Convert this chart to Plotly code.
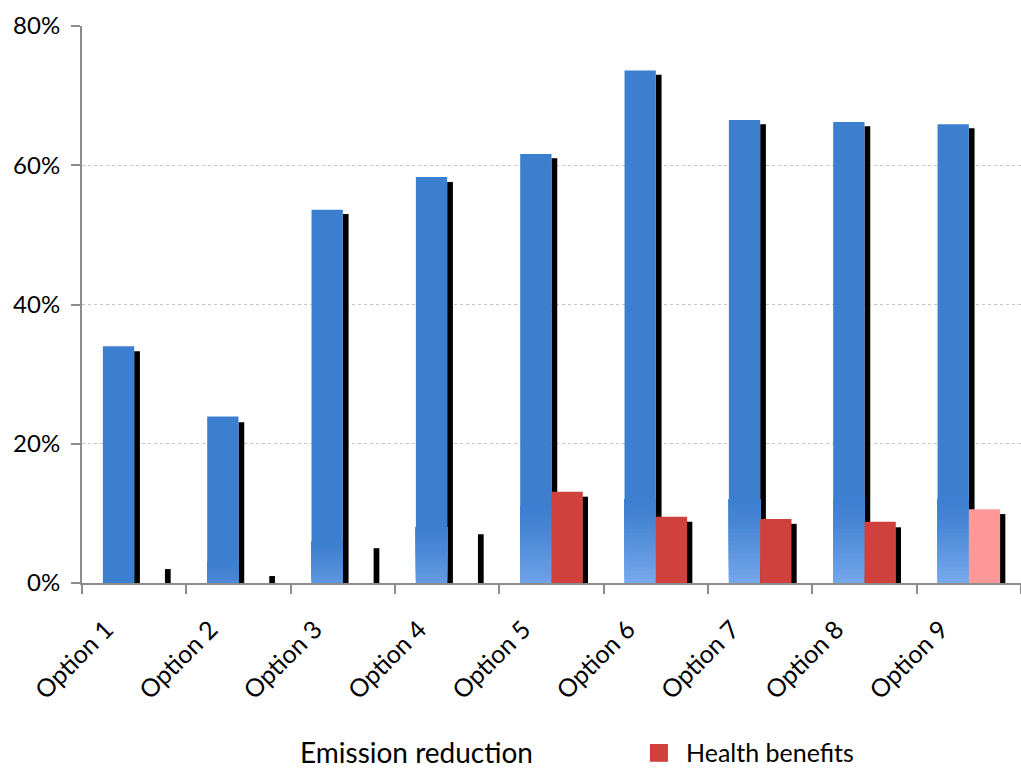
import plotly.graph_objects as go

# Options compared
options = ["Option 1", "Option 2", "Option 3", "Option 4", "Option 5",
           "Option 6", "Option 7", "Option 8", "Option 9"]

# Emission reduction (%) and its drop-shadow bar
emission = [34.0, 23.9, 53.6, 58.3, 61.6, 73.6, 66.5, 66.2, 65.9]
emission_shadow = [33.3, 23.1, 53.0, 57.6, 61.0, 73.0, 65.9, 65.6, 65.3]

# Health benefits (%) and its drop-shadow bar
health = [0, 0, 0, 0, 13.1, 9.5, 9.2, 8.8, 10.6]
health_shadow = [2.0, 1.0, 5.0, 7.0, 12.4, 8.8, 8.5, 8.0, 9.9]

# y-axis ticks
y_ticks = [0, 20, 40, 60, 80]
y_tick_text = ["0%", "20%", "40%", "60%", "80%"]

# styling
BLUE = (61, 127, 207)
BLUE_LIGHT = (128, 174, 240)
RED = "#D0403C"
PINK = "#FF9999"
red_colors = [RED] * 8 + [PINK]
fade_depth = [0, 3, 6, 8, 11, 12, 12, 12, 12]   # height of the lighter base glow
fade_strength = [0, 0.25, 0.5, 0.6, 0.75, 0.9, 0.85, 0.85, 0.9]

FONT = "Lato"
BAR_W = 0.3
SH_W = 0.055

fig = go.Figure()

# shadows first so the coloured bars sit on top
fig.add_trace(go.Bar(x=options, y=emission_shadow, offset=0, width=SH_W,
                     marker=dict(color="black", line_width=0),
                     showlegend=False, hoverinfo="skip"))
fig.add_trace(go.Bar(x=options, y=health_shadow, offset=BAR_W - 0.005, width=SH_W,
                     marker=dict(color="black", line_width=0),
                     showlegend=False, hoverinfo="skip"))


def mix(c1, c2, t):
    return "rgb({},{},{})".format(*[round(a + (b - a) * t) for a, b in zip(c1, c2)])


# emission bars: solid full bar, then a graded lighter base laid over it
fig.add_trace(go.Bar(x=options, y=emission, offset=-BAR_W, width=BAR_W,
                     marker=dict(color=mix(BLUE, BLUE, 0), line_width=0),
                     name="Emission reduction", showlegend=False))
N = 20
for k in range(N):
    t = k / N  # 0 at bottom, 1 at top of glow
    w = (1 - t - 0.5 / N) ** 1.3
    fig.add_trace(go.Bar(
        x=options,
        y=[d * (1 - t) for d in fade_depth],
        base=[d * t for d in fade_depth],
        offset=-BAR_W, width=BAR_W,
        marker=dict(color=[mix(BLUE, BLUE_LIGHT, s * w) for s in fade_strength],
                    line_width=0),
        showlegend=False, hoverinfo="skip"))

fig.add_trace(go.Bar(x=options, y=health, offset=0, width=BAR_W,
                     marker=dict(color=red_colors, line_width=0),
                     name="Health benefits", showlegend=False))

LEG_Y = -0.303
fig.update_layout(
    width=1021, height=769,
    margin=dict(l=82, r=0, t=26, b=186),
    barmode="overlay",
    plot_bgcolor="white", paper_bgcolor="white",
    font=dict(family=FONT, size=24, color="black"),
    showlegend=False,
    annotations=[
        dict(text="Emission reduction", x=0.356, y=LEG_Y,
             xref="paper", yref="paper", showarrow=False,
             font=dict(size=28), xanchor="center", yanchor="middle"),
        dict(text="Health benefits", x=0.6415, y=LEG_Y,
             xref="paper", yref="paper", showarrow=False,
             font=dict(size=25), xanchor="left", yanchor="middle"),
    ],
    shapes=[dict(type="rect", xref="paper", yref="paper",
                 x0=0.6048, x1=0.6240, y0=LEG_Y - 0.018, y1=LEG_Y + 0.014,
                 fillcolor=RED, line_width=0)],
)

fig.update_xaxes(
    range=[-0.5, len(options) - 0.5],
    showline=True, linecolor="#8c8c8c", linewidth=2,
    ticks="outside", tickson="boundaries", ticklen=9, tickcolor="#8c8c8c", tickwidth=2,
    tickangle=-45, tickfont=dict(size=25), showgrid=False,
    ticklabelstandoff=20, ticklabelshift=-28,
)
fig.update_yaxes(
    range=[0, 80], tickvals=y_ticks, ticktext=y_tick_text,
    showline=True, linecolor="#8c8c8c", linewidth=2,
    ticks="outside", ticklen=9, tickcolor="#8c8c8c", tickwidth=2,
    showgrid=True, gridcolor="#c4c4c4", griddash="dot", gridwidth=1,
    zeroline=False, tickfont=dict(size=24), ticklabelstandoff=6,
)

fig.write_html("out.html")
